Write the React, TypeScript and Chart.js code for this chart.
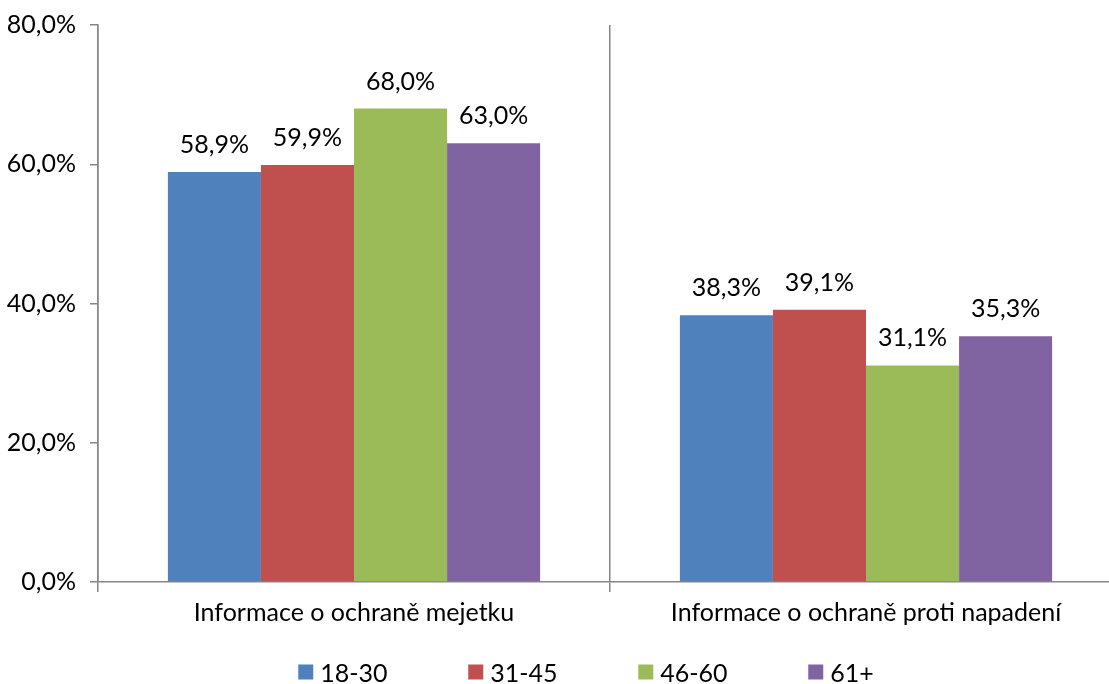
import React, { useEffect, useRef } from "react";
import { Chart, registerables } from "chart.js";

Chart.register(...registerables);

const categories = ["Informace o ochraně mejetku", "Informace o ochraně proti napadení"];
const seriesNames = ["18-30", "31-45", "46-60", "61+"];
const values18_30 = [58.9, 38.3];
const values31_45 = [59.9, 39.1];
const values46_60 = [68.0, 31.1];
const values61 = [63.0, 35.3];
const colors = ["#4F81BD", "#C0504D", "#9BBB59", "#8064A2"];
const yTicks = [0, 20, 40, 60, 80];

const FONT_FAMILY = "Lato, 'DejaVu Sans', sans-serif";
const FONT_SIZE = 25;

const fmt = (v: number) => v.toFixed(1).replace(".", ",") + "%";

const dataLabels = {
  id: "dataLabels",
  afterDatasetsDraw(chart: any) {
    const ctx = chart.ctx;
    ctx.save();
    ctx.font = `${FONT_SIZE}px ${FONT_FAMILY}`;
    ctx.fillStyle = "#000";
    ctx.textAlign = "center";
    ctx.textBaseline = "alphabetic";
    chart.data.datasets.forEach((ds: any, i: number) => {
      const meta = chart.getDatasetMeta(i);
      meta.data.forEach((el: any, j: number) => {
        ctx.fillText(fmt(ds.data[j]), el.x, el.y - 19);
      });
    });
    ctx.restore();
  },
};

const fixedLegend = {
  id: "fixedLegend",
  afterDraw(chart: any) {
    const ctx = chart.ctx;
    ctx.save();
    ctx.font = `${FONT_SIZE}px ${FONT_FAMILY}`;
    ctx.textBaseline = "middle";
    ctx.textAlign = "left";
    const step = 170;
    const box = 15;
    const gap = 7;
    const ds = chart.data.datasets;
    const lastW = box + gap + ctx.measureText(ds[ds.length - 1].label).width;
    const total = step * (ds.length - 1) + lastW;
    let x = chart.width / 2 - total / 2;
    const cy = 672;
    ds.forEach((d: any) => {
      ctx.fillStyle = d.backgroundColor;
      ctx.fillRect(x, cy - box / 2, box, box);
      ctx.fillStyle = "#000";
      ctx.fillText(d.label, x + box + gap, cy + 2);
      x += step;
    });
    ctx.restore();
  },
};

export default function App() {
  const ref = useRef<HTMLCanvasElement | null>(null);
  useEffect(() => {
    if (!ref.current) return;
    const font = { family: FONT_FAMILY, size: FONT_SIZE };
    const chart = new Chart(ref.current, {
      type: "bar",
      data: {
        labels: categories,
        datasets: [values18_30, values31_45, values46_60, values61].map((d, i) => ({
          label: seriesNames[i],
          data: d,
          backgroundColor: colors[i],
          borderWidth: 0,
          barPercentage: 1,
          categoryPercentage: 0.727,
        })),
      },
      options: {
        animation: false,
        responsive: false,
        maintainAspectRatio: false,
        layout: { padding: { top: 25, left: 0, right: 50, bottom: 0 } },
        plugins: {
          legend: { display: false },
          tooltip: { enabled: false },
        },
        scales: {
          x: {
            offset: true,
            grid: { offset: true, color: "#868686", lineWidth: 1.5, tickLength: 10, drawOnChartArea: true },
            border: { color: "#868686", width: 1.5 },
            ticks: { font, color: "#000", padding: 6 },
            afterFit: (s: any) => { s.height = 102; },
          },
          y: {
            min: 0,
            max: 80,
            afterBuildTicks: (s: any) => { s.ticks = yTicks.map((v) => ({ value: v })); },
            grid: { drawOnChartArea: false, color: "#868686", lineWidth: 1.5, tickLength: 8 },
            border: { color: "#868686", width: 1.5 },
            ticks: { font, color: "#000", padding: 14, callback: (v: any) => fmt(Number(v)) },
            afterFit: (s: any) => { s.width = 98; s.paddingTop = 0; s.paddingBottom = 0; },
          },
        },
      },
      plugins: [dataLabels, fixedLegend],
    });
    return () => chart.destroy();
  }, []);
  return (
    <div style={{ position: "absolute", left: 0, top: 0, width: 1109, height: 684, overflow: "hidden", background: "#fff" }}>
      <canvas ref={ref} width={1172} height={684} style={{ display: "block" }} />
    </div>
  );
}
